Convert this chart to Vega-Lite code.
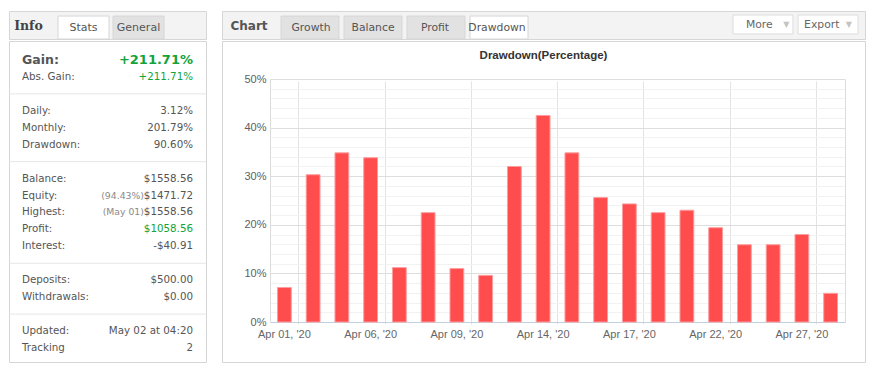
{
  "$schema": "https://vega.github.io/schema/vega-lite/v6.json",
  "background": "white",
  "padding": {"left": 8, "top": 10, "right": 0, "bottom": 0},
  "config": {
    "view": {"stroke": "#d6d6d6"},
    "font": "DejaVu Sans"
  },
  "datasets": {
    "stats": [
      {"item": "Gain:", "value": "+211.71%", "note": ""},
      {"item": "Abs. Gain:", "value": "+211.71%", "note": ""},
      {"item": "sep1", "value": "", "note": ""},
      {"item": "Daily:", "value": "3.12%", "note": ""},
      {"item": "Monthly:", "value": "201.79%", "note": ""},
      {"item": "Drawdown:", "value": "90.60%", "note": ""},
      {"item": "sep2", "value": "", "note": ""},
      {"item": "Balance:", "value": "$1558.56", "note": ""},
      {"item": "Equity:", "value": "$1471.72", "note": "(94.43%)"},
      {"item": "Highest:", "value": "$1558.56", "note": "(May 01)"},
      {"item": "Profit:", "value": "$1058.56", "note": ""},
      {"item": "Interest:", "value": "-$40.91", "note": ""},
      {"item": "sep3", "value": "", "note": ""},
      {"item": "Deposits:", "value": "$500.00", "note": ""},
      {"item": "Withdrawals:", "value": "$0.00", "note": ""},
      {"item": "sep4", "value": "", "note": ""},
      {"item": "Updated:", "value": "May 02 at 04:20", "note": ""},
      {"item": "Tracking", "value": "2", "note": ""}
    ],
    "tabsL": [{"tab": "Info"}, {"tab": "Stats"}, {"tab": "General"}],
    "tabsR": [{"tab": "Chart"}, {"tab": "Growth"}, {"tab": "Balance"}, {"tab": "Profit"}, {"tab": "Drawdown"}],
    "buttons": [{"btn": "More"}, {"btn": "Export"}],
    "dd": [
      {"date": "Apr 01, '20", "dd": 7.1},
      {"date": "Apr 02, '20", "dd": 30.3},
      {"date": "Apr 03, '20", "dd": 34.8},
      {"date": "Apr 06, '20", "dd": 33.8},
      {"date": "Apr 07, '20", "dd": 11.2},
      {"date": "Apr 08, '20", "dd": 22.5},
      {"date": "Apr 09, '20", "dd": 11.0},
      {"date": "Apr 10, '20", "dd": 9.6},
      {"date": "Apr 13, '20", "dd": 32.0},
      {"date": "Apr 14, '20", "dd": 42.5},
      {"date": "Apr 15, '20", "dd": 34.8},
      {"date": "Apr 16, '20", "dd": 25.6},
      {"date": "Apr 17, '20", "dd": 24.3},
      {"date": "Apr 20, '20", "dd": 22.5},
      {"date": "Apr 21, '20", "dd": 23.0},
      {"date": "Apr 22, '20", "dd": 19.4},
      {"date": "Apr 23, '20", "dd": 15.9},
      {"date": "Apr 24, '20", "dd": 15.9},
      {"date": "Apr 27, '20", "dd": 18.0},
      {"date": "Apr 28, '20", "dd": 5.9}
    ]
  },
  "spacing": 14,
  "hconcat": [
    {
      "spacing": 0,
      "vconcat": [
        {
          "width": 197,
          "height": 28,
          "view": {"fill": "#f3f3f3", "stroke": "#d6d6d6"},
          "data": {"name": "tabsL"},
          "layer": [
            {
              "transform": [{"filter": "datum.tab !== 'Info'"}],
              "mark": {"type": "bar", "stroke": "#d6d6d6", "strokeWidth": 1},
              "encoding": {
                "x": {"field": "tab", "type": "nominal", "scale": {"domain": ["Info", "Stats", "General"], "range": [-6, 155], "paddingInner": 0.073, "paddingOuter": 0}, "axis": null},
                "y": {"datum": 0.82, "type": "quantitative", "scale": {"domain": [0, 1], "range": [28, 0]}, "axis": null},
                "y2": {"datum": 0},
                "color": {"condition": {"test": "datum.tab === 'Stats'", "value": "#ffffff"}, "value": "#e2e2e2"}
              }
            },
            {
              "transform": [{"filter": "datum.tab !== 'Info'"}],
              "mark": {"type": "text", "fontSize": 11, "color": "#555555", "baseline": "middle"},
              "encoding": {
                "x": {"field": "tab", "type": "nominal", "axis": null},
                "y": {"datum": 0.4, "type": "quantitative"},
                "text": {"field": "tab"}
              }
            },
            {
              "transform": [{"filter": "datum.tab === 'Info'"}],
              "mark": {"type": "text", "font": "DejaVu Serif", "fontWeight": "bold", "fontSize": 12.5, "color": "#444444", "baseline": "middle"},
              "encoding": {
                "x": {"field": "tab", "type": "nominal", "axis": null},
                "y": {"datum": 0.45, "type": "quantitative"},
                "text": {"field": "tab"}
              }
            }
          ]
        },
        {
          "width": 197,
          "height": 321,
          "data": {"name": "stats"},
          "encoding": {
            "y": {"field": "item", "type": "nominal", "scale": {"type": "point", "domain": ["Gain:", "Abs. Gain:", "sep1", "Daily:", "Monthly:", "Drawdown:", "sep2", "Balance:", "Equity:", "Highest:", "Profit:", "Interest:", "sep3", "Deposits:", "Withdrawals:", "sep4", "Updated:", "Tracking"], "range": [19, 307], "padding": 0}, "axis": null}
          },
          "layer": [
            {
              "transform": [{"filter": "indexof(datum.item, 'sep') === 0"}],
              "mark": {"type": "rule", "color": "#e6e6e6", "strokeWidth": 1},
              "encoding": {}
            },
            {
              "transform": [{"filter": "indexof(datum.item, 'sep') !== 0 && datum.item !== 'Gain:'"}],
              "mark": {"type": "text", "align": "left", "baseline": "middle", "fontSize": 10.3, "color": "#555555"},
              "encoding": {
                "x": {"datum": 0, "type": "quantitative", "scale": {"domain": [0, 1], "range": [13, 184]}, "axis": null},
                "text": {"field": "item"}
              }
            },
            {
              "transform": [{"filter": "indexof(datum.item, 'sep') !== 0 && datum.item !== 'Gain:'"}],
              "mark": {"type": "text", "align": "right", "baseline": "middle", "fontSize": 10.3},
              "encoding": {
                "x": {"datum": 1, "type": "quantitative"},
                "text": {"field": "value"},
                "color": {"condition": {"test": "datum.item === 'Abs. Gain:' || datum.item === 'Profit:'", "value": "#12a33a"}, "value": "#555555"}
              }
            },
            {
              "transform": [{"filter": "datum.note !== ''"}],
              "mark": {"type": "text", "align": "right", "baseline": "middle", "fontSize": 9.3, "color": "#8a8a8a"},
              "encoding": {
                "x": {"datum": 0.713, "type": "quantitative"},
                "text": {"field": "note"}
              }
            },
            {
              "transform": [{"filter": "datum.item === 'Gain:'"}],
              "mark": {"type": "text", "align": "left", "baseline": "middle", "fontSize": 12.5, "fontWeight": "bold", "color": "#555555"},
              "encoding": {
                "x": {"datum": 0, "type": "quantitative"},
                "text": {"field": "item"}
              }
            },
            {
              "transform": [{"filter": "datum.item === 'Gain:'"}],
              "mark": {"type": "text", "align": "right", "baseline": "middle", "fontSize": 13, "fontWeight": "bold", "color": "#12a33a"},
              "encoding": {
                "x": {"datum": 1, "type": "quantitative"},
                "text": {"field": "value"}
              }
            }
          ]
        }
      ]
    },
    {
      "spacing": 0,
      "vconcat": [
        {
          "width": 643,
          "height": 28,
          "view": {"fill": "#f3f3f3", "stroke": "#d6d6d6"},
          "resolve": {"scale": {"x": "independent"}},
          "layer": [
            {
              "data": {"name": "tabsR"},
              "transform": [{"filter": "datum.tab !== 'Chart'"}],
              "mark": {"type": "bar", "stroke": "#d6d6d6", "strokeWidth": 1},
              "encoding": {
                "x": {"field": "tab", "type": "nominal", "scale": {"domain": ["Chart", "Growth", "Balance", "Profit", "Drawdown"], "range": [-4, 306], "paddingInner": 0.08, "paddingOuter": 0}, "axis": null},
                "y": {"datum": 0.82, "type": "quantitative", "scale": {"domain": [0, 1], "range": [28, 0]}, "axis": null},
                "y2": {"datum": 0},
                "color": {"condition": {"test": "datum.tab === 'Drawdown'", "value": "#ffffff"}, "value": "#e2e2e2"}
              }
            },
            {
              "data": {"name": "tabsR"},
              "transform": [{"filter": "datum.tab !== 'Chart'"}],
              "mark": {"type": "text", "fontSize": 10.8, "color": "#555555", "baseline": "middle"},
              "encoding": {
                "x": {"field": "tab", "type": "nominal", "scale": {"domain": ["Chart", "Growth", "Balance", "Profit", "Drawdown"], "range": [-4, 306], "paddingInner": 0.08, "paddingOuter": 0}, "axis": null},
                "y": {"datum": 0.4, "type": "quantitative"},
                "text": {"field": "tab"}
              }
            },
            {
              "data": {"name": "tabsR"},
              "transform": [{"filter": "datum.tab === 'Chart'"}],
              "mark": {"type": "text", "fontSize": 12, "fontWeight": "bold", "color": "#555555", "baseline": "middle"},
              "encoding": {
                "x": {"field": "tab", "type": "nominal", "scale": {"domain": ["Chart", "Growth", "Balance", "Profit", "Drawdown"], "range": [-4, 306], "paddingInner": 0.08, "paddingOuter": 0}, "axis": null},
                "y": {"datum": 0.45, "type": "quantitative"},
                "text": {"field": "tab"}
              }
            },
            {
              "data": {"name": "buttons"},
              "mark": {"type": "bar", "color": "#ffffff", "stroke": "#dddddd", "strokeWidth": 1},
              "encoding": {
                "x": {"field": "btn", "type": "nominal", "scale": {"domain": ["More", "Export"], "range": [511, 636], "paddingInner": 0.08, "paddingOuter": 0}, "axis": null},
                "y": {"datum": 0.857, "type": "quantitative"},
                "y2": {"datum": 0.18}
              }
            },
            {
              "data": {"name": "buttons"},
              "mark": {"type": "text", "fontSize": 10.8, "color": "#666666", "baseline": "middle", "dx": -5},
              "encoding": {
                "x": {"field": "btn", "type": "nominal", "scale": {"domain": ["More", "Export"], "range": [511, 636], "paddingInner": 0.08, "paddingOuter": 0}, "axis": null},
                "y": {"datum": 0.5, "type": "quantitative"},
                "text": {"field": "btn"}
              }
            },
            {
              "data": {"name": "buttons"},
              "mark": {"type": "text", "fontSize": 8, "color": "#c4c4c4", "baseline": "middle", "text": "▼", "dx": 22},
              "encoding": {
                "x": {"field": "btn", "type": "nominal", "scale": {"domain": ["More", "Export"], "range": [511, 636], "paddingInner": 0.08, "paddingOuter": 0}, "axis": null},
                "y": {"datum": 0.5, "type": "quantitative"}
              }
            }
          ]
        },
        {
          "width": 643,
          "height": 321,
          "data": {"name": "dd"},
          "title": {"text": "Drawdown(Percentage)", "offset": -20, "font": "Liberation Sans", "fontSize": 11.5, "fontWeight": "bold", "color": "#333333", "anchor": "middle"},
          "resolve": {"axis": {"x": "independent", "y": "independent"}},
          "layer": [
            {
              "mark": {"type": "bar", "width": {"band": 0.48}, "color": "#ff4d4d", "stroke": "#ff9d9d", "strokeWidth": 1},
              "encoding": {
                "x": {
                  "field": "date", "type": "nominal", "sort": null,
                  "scale": {"type": "band", "range": [48, 623], "paddingInner": 0, "paddingOuter": 0},
                  "axis": {
                    "orient": "bottom", "title": null, "offset": -40,
                    "values": ["Apr 01, '20", "Apr 06, '20", "Apr 09, '20", "Apr 14, '20", "Apr 17, '20", "Apr 22, '20", "Apr 27, '20"],
                    "labelAngle": 0, "grid": false, "ticks": false, "domain": true, "domainColor": "#c0d0e0",
                    "labelFont": "Liberation Sans", "labelFontSize": 11, "labelColor": "#666666", "labelPadding": 6
                  }
                },
                "y": {
                  "field": "dd", "type": "quantitative",
                  "scale": {"domain": [0, 50], "range": [281, 38], "nice": false, "zero": true},
                  "axis": {
                    "orient": "left", "title": null, "offset": -48,
                    "values": [0, 2, 4, 6, 8, 10, 12, 14, 16, 18, 20, 22, 24, 26, 28, 30, 32, 34, 36, 38, 40, 42, 44, 46, 48, 50],
                    "labelExpr": "datum.value % 10 === 0 ? datum.value + '%' : ''",
                    "grid": true,
                    "gridColor": {"condition": {"test": "datum.value % 10 === 0", "value": "#dedede"}, "value": "#f2f2f2"},
                    "ticks": false, "domain": true, "domainColor": "#dcdcdc",
                    "labelFont": "Liberation Sans", "labelFontSize": 11, "labelColor": "#606060", "labelPadding": 4
                  }
                }
              }
            },
            {
              "mark": {"type": "bar", "width": {"band": 0.48}, "opacity": 0},
              "encoding": {
                "x": {
                  "field": "date", "type": "nominal", "sort": null,
                  "axis": {
                    "orient": "bottom", "title": null,
                    "values": ["Apr 02, '20", "Apr 07, '20", "Apr 10, '20", "Apr 15, '20", "Apr 20, '20", "Apr 23, '20", "Apr 28, '20"],
                    "bandPosition": 0, "grid": true, "gridColor": "#e3e3e3",
                    "labels": false, "ticks": false, "domain": false
                  }
                },
                "y": {"field": "dd", "type": "quantitative", "axis": null}
              }
            },
            {
              "mark": {"type": "bar", "width": {"band": 0.48}, "opacity": 0},
              "encoding": {
                "x": {"field": "date", "type": "nominal", "sort": null, "axis": null},
                "y": {
                  "field": "dd", "type": "quantitative",
                  "axis": {"orient": "right", "offset": -20, "title": null, "labels": false, "ticks": false, "grid": false, "domain": true, "domainColor": "#dcdcdc"}
                }
              }
            }
          ]
        }
      ]
    }
  ]
}
